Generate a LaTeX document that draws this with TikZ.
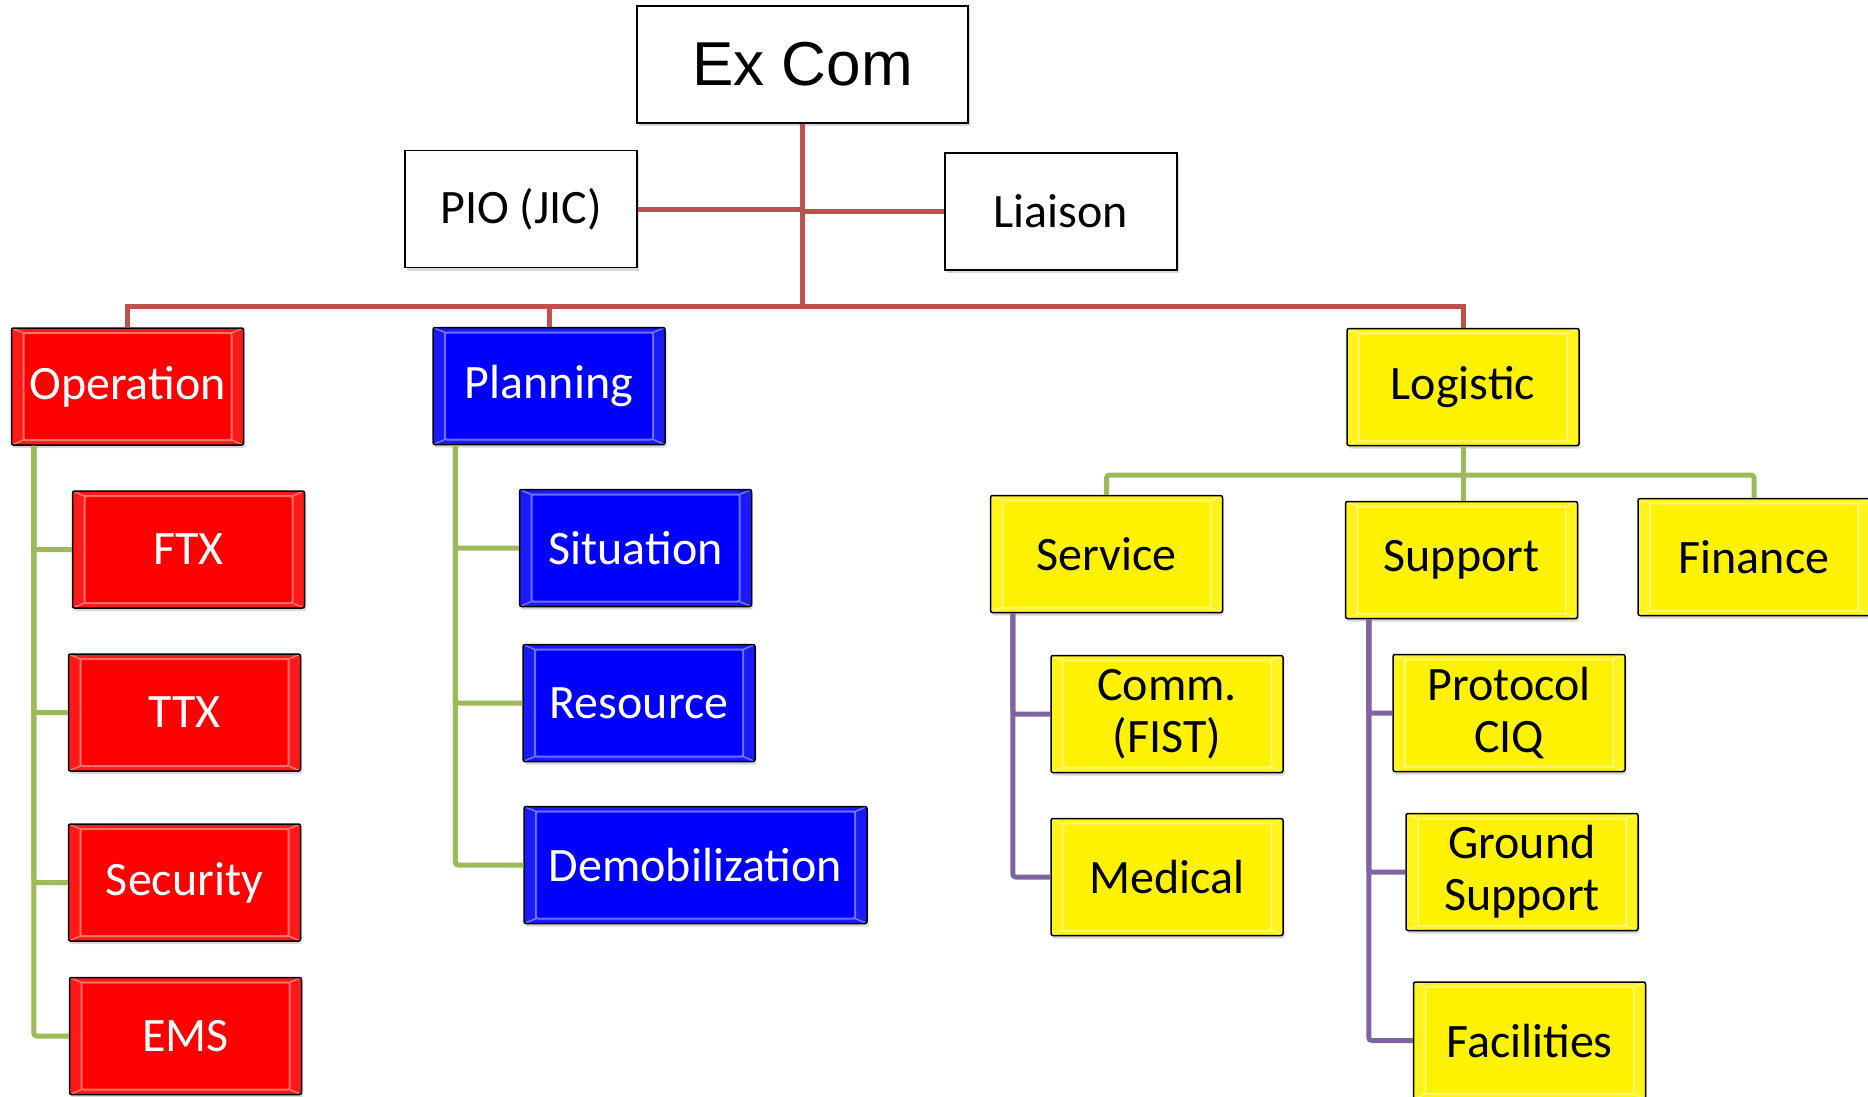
\documentclass[tikz,border=0pt]{standalone}
\usepackage{fontspec}
\setmainfont{Carlito}
\newfontfamily\arialfont{Liberation Sans}
\usetikzlibrary{shadows}

\definecolor{linkred}{HTML}{C0504D}
\definecolor{linkgreen}{HTML}{9BBB59}
\definecolor{linkpurple}{HTML}{8064A2}

\tikzset{
  plainbox/.style={draw=black, line width=1.5pt, fill=white, minimum width=232pt, minimum height=117pt,
    inner sep=0pt, align=center, font=\fontsize{48}{52}\selectfont,
    drop shadow={opacity=0.3, shadow xshift=1.5pt, shadow yshift=-3pt}},
  bevelbox/.style={plainbox, rounded corners=2pt, path picture={
      \fill[white, opacity=0.1, even odd rule]
        (path picture bounding box.north west) rectangle (path picture bounding box.south east)
        ([shift={(12pt,-5pt)}]path picture bounding box.north west) rectangle ([shift={(-12pt,5pt)}]path picture bounding box.south east);
      \draw[white, opacity=0.4, line width=2pt]
        ([shift={(12pt,-5pt)}]path picture bounding box.north west) rectangle ([shift={(-12pt,5pt)}]path picture bounding box.south east);
      \draw[white, opacity=0.4, line width=1.5pt]
        (path picture bounding box.north west) -- ([shift={(12pt,-5pt)}]path picture bounding box.north west)
        (path picture bounding box.north east) -- ([shift={(-12pt,-5pt)}]path picture bounding box.north east)
        (path picture bounding box.south west) -- ([shift={(12pt,5pt)}]path picture bounding box.south west)
        (path picture bounding box.south east) -- ([shift={(-12pt,5pt)}]path picture bounding box.south east);
    }},
  redbox/.style={bevelbox, fill=red, text=white},
  bluebox/.style={bevelbox, fill=blue, text=white},
  yellowbox/.style={bevelbox, fill=yellow, text=black},
  redlink/.style={draw=linkred, line width=5pt},
  greenlink/.style={draw=linkgreen, line width=5pt, rounded corners=3pt},
  purplelink/.style={draw=linkpurple, line width=5pt, rounded corners=3pt},
}

\begin{document}
\begin{tikzpicture}[x=1pt, y=-1pt]
  \useasboundingbox (0,0) rectangle (1868,1097);
  %top
  \node[plainbox, minimum width=331pt, font=\arialfont\fontsize{62}{70}\selectfont] (excom) at (802.5,64.5) {Ex Com};
  \node[plainbox] (pio) at (521,209) {PIO (JIC)};
  \node[plainbox] (liaison) at (1061,211.5) {Liaison};
  %sections
  \node[redbox] (oper) at (127.5,386.5) {Operation};
  \node[bluebox] (plan) at (549,386) {Planning};
  \node[yellowbox] (logi) at (1463,387) {Logistic};
  %operation
  \node[redbox] (ftx) at (188.5,549.5) {FTX};
  \node[redbox] (ttx) at (184.5,712.5) {TTX};
  \node[redbox] (secur) at (184.5,882.5) {Security};
  \node[redbox] (ems) at (185.5,1036) {EMS};
  %planning
  \node[bluebox] (situ) at (635.5,548) {Situation};
  \node[bluebox] (reso) at (639,703) {Resource};
  \node[bluebox, minimum width=343pt] (demob) at (695.5,865) {Demobilization};
  %logistic
  \node[yellowbox] (service) at (1106.5,554) {Service};
  \node[yellowbox] (support) at (1461.5,560) {Support};
  \node[yellowbox] (finance) at (1754,557) {Finance};
  \node[yellowbox] (comm) at (1167,714) {Comm.\\(FIST)};
  \node[yellowbox] (medical) at (1167,877) {Medical};
  \node[yellowbox] (proto) at (1509,713) {Protocol\\CIQ};
  \node[yellowbox] (ground) at (1522,872) {Ground\\Support};
  \node[yellowbox] (facil) at (1529.5,1040.5) {Facilities};

  %red links
  \coordinate (busy) at (0,306);
  \coordinate (logbusy) at (0,475);
  \draw[redlink] (excom.south) -- (excom.south |- busy);
  \draw[redlink] (pio.east) -- (pio.east -| excom.south);
  \draw[redlink] (liaison.west) -- (liaison.west -| excom.south);
  \draw[redlink] (oper.north) |- (logi.north |- busy) -- (logi.north);
  \draw[redlink] (plan.north) -- (plan.north |- busy);
  %green links
  \foreach \k in {ftx,ttx,secur,ems}
    \draw[greenlink] ([xshift=23pt]oper.south west) |- (\k.west);
  \foreach \k in {situ,reso,demob}
    \draw[greenlink] ([xshift=23pt]plan.south west) |- (\k.west);
  \draw[greenlink] (logi.south) -- (logi.south |- support.north);
  \draw[greenlink] (service.north) |- (logi.south |- logbusy) -| (finance.north);
  %purple links
  \foreach \k in {comm,medical}
    \draw[purplelink] ([xshift=23pt]service.south west) |- (\k.west);
  \foreach \k in {proto,ground,facil}
    \draw[purplelink] ([xshift=24pt]support.south west) |- (\k.west);
\end{tikzpicture}
\end{document}
